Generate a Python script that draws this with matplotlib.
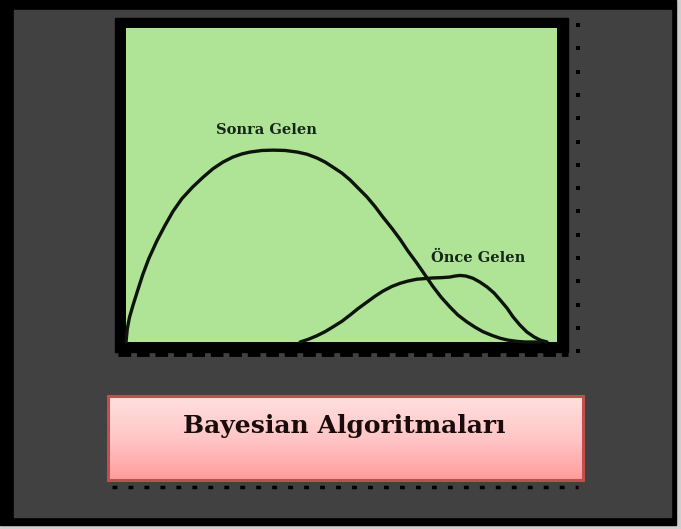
import numpy as np
import matplotlib
matplotlib.use("Agg")
import matplotlib.pyplot as plt
from matplotlib.patches import Rectangle
from matplotlib.colors import LinearSegmentedColormap

# curves (x: 0..10 across the green panel, y: 0..10 up)
sonra_x = [0.0, 0.03, 0.08, 0.16, 0.27, 0.39, 0.53, 0.72, 0.90, 1.09, 1.30, 1.55,
           1.79, 2.02, 2.25, 2.48, 2.69, 2.88, 3.16, 3.41, 3.69, 3.97, 4.20, 4.43,
           4.62, 4.80, 5.01, 5.20, 5.38, 5.59, 5.78, 5.96, 6.17, 6.36, 6.54, 6.75,
           6.94, 7.12, 7.31, 7.52, 7.70, 7.91, 8.10, 8.28, 8.49, 8.68, 8.86, 9.07,
           9.26, 9.61]
sonra_y = [0.0, 0.42, 0.78, 1.16, 1.64, 2.15, 2.66, 3.23, 3.70, 4.16, 4.57, 4.94,
           5.25, 5.52, 5.73, 5.89, 5.99, 6.05, 6.10, 6.11, 6.10, 6.05, 5.98, 5.86,
           5.73, 5.57, 5.38, 5.16, 4.91, 4.62, 4.31, 3.98, 3.62, 3.27, 2.90, 2.51,
           2.13, 1.77, 1.43, 1.11, 0.86, 0.64, 0.47, 0.33, 0.21, 0.12, 0.06, 0.02,
           0.0, 0.0]
once_x = [4.04, 4.22, 4.43, 4.62, 4.80, 5.01, 5.20, 5.38, 5.59, 5.78, 5.96, 6.17,
          6.36, 6.54, 6.75, 6.94, 7.12, 7.33, 7.52, 7.63, 7.75, 7.89, 8.05, 8.21,
          8.38, 8.54, 8.68, 8.84, 8.98, 9.14, 9.30, 9.47, 9.61, 9.77]
once_y = [0.0, 0.08, 0.20, 0.33, 0.48, 0.66, 0.86, 1.06, 1.27, 1.46, 1.62, 1.77,
          1.87, 1.94, 2.00, 2.02, 2.04, 2.05, 2.07, 2.10, 2.12, 2.10, 2.03, 1.91,
          1.75, 1.56, 1.34, 1.08, 0.80, 0.54, 0.32, 0.16, 0.06, 0.0]
label_sonra = "Sonra Gelen"
label_once = "Önce Gelen"
title = "Bayesian Algoritmaları"

W, H = 681, 529
fig = plt.figure(figsize=(W / 100, H / 100), dpi=100, facecolor="#cfcfcf")
serif = ["DejaVu Serif", "Liberation Serif"]

# background layer in pixel coordinates
bg = fig.add_axes([0, 0, 1, 1], zorder=0)
bg.set_xlim(0, W)
bg.set_ylim(H, 0)
bg.axis("off")
bg.add_patch(Rectangle((0, 0), 676, 525, color="black"))
bg.add_patch(Rectangle((14, 10), 657, 507, color="#414141"))

# black frame round the chart, with its dotted shadow
bg.add_patch(Rectangle((115, 18), 453, 334, color="black"))
bg.plot([118, 568], [354, 354], color="black", lw=3.5, ls=(0, (2.6, 1.2)),
        solid_capstyle="butt")
dots_y = np.arange(25, 355, 23.3)
bg.scatter(np.full(len(dots_y), 577.5), dots_y, s=9, marker="s", color="black", lw=0)

# pink caption box
pink = LinearSegmentedColormap.from_list("pink", ["#ffe0e0", "#ffc6c6", "#ff9c9c"])
grad = np.linspace(0, 1, 100).reshape(-1, 1)
bg.imshow(grad, cmap=pink, aspect="auto", extent=(108, 583, 480, 396), zorder=2)
bg.add_patch(Rectangle((108, 396), 475, 84, fill=False, ec="#c0504d", lw=2.2, zorder=3))
bg.plot([112, 578], [487, 487], color="black", lw=2.5, ls=(0, (1.4, 3.2)),
        solid_capstyle="butt", zorder=3)
bg.text(344, 426, title, ha="center", va="center", fontsize=18,
        fontweight="bold", family=serif, color="#180c0c", zorder=4)

# chart panel
ax = fig.add_axes([126 / W, (H - 342) / H, 431 / W, 314 / H], zorder=1)
ax.set_facecolor("#afe395")
ax.set_xlim(0, 10)
ax.set_ylim(0, 10)
for s in ax.spines.values():
    s.set_visible(False)
ax.set_xticks([])
ax.set_yticks([])
ax.plot(sonra_x, sonra_y, color="#0c140c", lw=2.4, solid_joinstyle="round",
        solid_capstyle="round", clip_on=False)
ax.plot(once_x, once_y, color="#0c140c", lw=2.4, solid_joinstyle="round",
        solid_capstyle="round", clip_on=False)
ax.text(3.25, 6.75, label_sonra, ha="center", va="center", fontsize=10.5,
        fontweight="bold", family=serif, color="#14261a")
ax.text(8.17, 2.68, label_once, ha="center", va="center", fontsize=10.5,
        fontweight="bold", family=serif, color="#14261a")

fig.savefig("out.png", dpi=100, facecolor=fig.get_facecolor())
